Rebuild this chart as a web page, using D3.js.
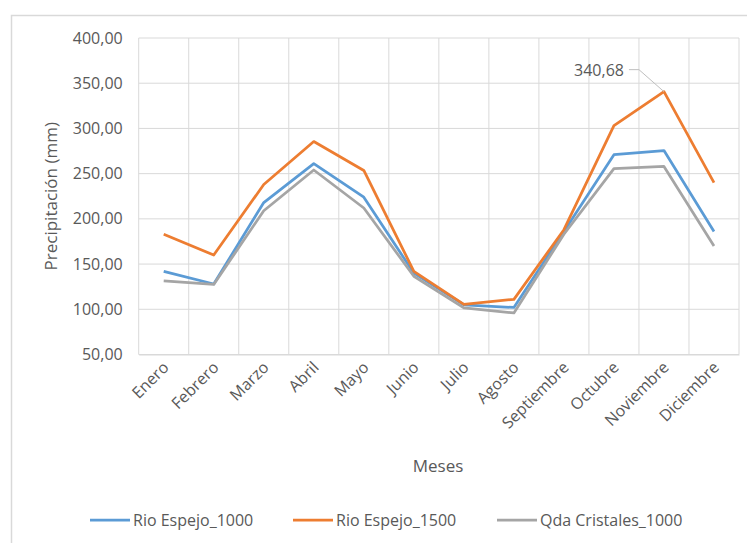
<!DOCTYPE html>
<html>
<head>
<meta charset="utf-8">
<script src="https://cdn.jsdelivr.net/npm/d3@7"></script>
<style>
  body { margin: 0; background: #fff; }
  text { font-family: "Open Sans", sans-serif; fill: #595959; }
</style>
</head>
<body>
<script>

var months = ["Enero", "Febrero", "Marzo", "Abril", "Mayo", "Junio", "Julio",
  "Agosto", "Septiembre", "Octubre", "Noviembre", "Diciembre"]

var rioEspejo1000 = [142, 128, 218, 261, 224, 140, 105, 102, 186, 271, 275.5, 186]
var rioEspejo1500 = [183, 160, 238, 285.5, 253.5, 142, 105.5, 111, 188, 303, 340.68, 240]
var qdaCristales1000 = [131.5, 127.5, 209, 254, 212, 136.5, 101.5, 96, 183, 255.5, 258, 170]

var seriesNames = ["Rio Espejo_1000", "Rio Espejo_1500", "Qda Cristales_1000"]
var seriesColors = ["#5b9bd5", "#ed7d31", "#a5a5a5"]
var yTicks = [50, 100, 150, 200, 250, 300, 350, 400]

var width = 747, height = 543
var pLeft = 138.7, pRight = 739, pTop = 38, pBottom = 354.5

var svg = d3.select("body")
  .append("svg")
    .attr("width", width)
    .attr("height", height)

/******** outer chart border *********/
svg.append("rect")
  .attr("x", 11.5)
  .attr("y", 15.5)
  .attr("width", 800)
  .attr("height", 600)
  .attr("fill", "none")
  .attr("stroke", "#d9d9d9")
  .attr("stroke-width", 1.5)

/******** scales *********/
var x_band = d3.scaleBand()
  .domain(months)
  .range([pLeft, pRight])

var y_scale = d3.scaleLinear()
  .domain([50, 400])
  .range([pBottom, pTop])

var comma = d3.formatLocale({decimal: ",", thousands: ".", grouping: [3], currency: ["", ""]})

/******** gridlines *********/
svg.append("g")
  .selectAll("line.h")
  .data(yTicks)
  .enter()
  .append("line")
    .attr("x1", pLeft)
    .attr("x2", pRight)
    .attr("y1", function(d){ return y_scale(d) })
    .attr("y2", function(d){ return y_scale(d) })
    .attr("stroke", "#d9d9d9")
    .attr("stroke-width", 1)

svg.append("g")
  .selectAll("line.v")
  .data(months.concat(["end"]))
  .enter()
  .append("line")
    .attr("x1", function(d, i){ return pLeft + i * x_band.step() })
    .attr("x2", function(d, i){ return pLeft + i * x_band.step() })
    .attr("y1", pTop)
    .attr("y2", pBottom)
    .attr("stroke", "#d9d9d9")
    .attr("stroke-width", 1)

/******** axes *********/
var y_axis = d3.axisLeft(y_scale)
  .tickValues(yTicks)
  .tickSize(0)
  .tickPadding(16)
  .tickFormat(comma.format(".2f"))

svg.append("g")
  .attr("transform", "translate(" + pLeft + ",0)")
  .call(y_axis)
  .call(function(g){ g.select(".domain").remove() })
  .selectAll("text")
    .attr("font-size", "16px")
    .attr("font-family", "Open Sans")
    .attr("fill", "#595959")

var x_axis = d3.axisBottom(x_band)
  .tickSize(0)
  .tickPadding(0)

svg.append("g")
  .attr("transform", "translate(0," + pBottom + ")")
  .call(x_axis)
  .call(function(g){ g.select(".domain").attr("stroke", "#d9d9d9") })
  .selectAll("text")
    .attr("font-size", "16px")
    .attr("font-family", "Open Sans")
    .attr("fill", "#595959")
    .attr("text-anchor", "end")
    .attr("dy", 0)
    .attr("transform", "translate(6,14) rotate(-45)")

/******** titles *********/
svg.append("text")
  .attr("transform", "translate(57," + ((pTop + pBottom) / 2) + ") rotate(-90)")
  .attr("text-anchor", "middle")
  .attr("font-size", "17px")
  .text("Precipitación (mm)")

svg.append("text")
  .attr("x", 438)
  .attr("y", 472)
  .attr("text-anchor", "middle")
  .attr("font-size", "17px")
  .text("Meses")

/******** lines *********/
var allSeries = [rioEspejo1000, rioEspejo1500, qdaCristales1000]

var line = d3.line()
  .x(function(d, i){ return x_band(months[i]) + x_band.bandwidth() / 2 })
  .y(function(d){ return y_scale(d) })

svg.append("g")
  .selectAll("path")
  .data(allSeries)
  .enter()
  .append("path")
    .attr("d", function(d){ return line(d) })
    .attr("fill", "none")
    .attr("stroke", function(d, i){ return seriesColors[i] })
    .attr("stroke-width", 2.75)
    .attr("stroke-linejoin", "round")

/******** data label on peak *********/
var peakX = x_band("Noviembre") + x_band.bandwidth() / 2
var peakY = y_scale(rioEspejo1500[10])

svg.append("path")
  .attr("d", "M" + (peakX - 35) + "," + (peakY - 22) + "H" + (peakX - 25) + "L" + peakX + "," + peakY)
  .attr("fill", "none")
  .attr("stroke", "#bfbfbf")
  .attr("stroke-width", 1)

svg.append("text")
  .attr("x", peakX - 40)
  .attr("y", peakY - 16)
  .attr("text-anchor", "end")
  .attr("font-size", "16px")
  .text(comma.format(".2f")(rioEspejo1500[10]))

/******** legend *********/
var legendX = [90, 293, 497]

var legend = svg.append("g")
  .selectAll("g")
  .data(seriesNames)
  .enter()
  .append("g")
    .attr("transform", function(d, i){ return "translate(" + legendX[i] + ",520)" })

legend.append("line")
  .attr("x1", 0)
  .attr("x2", 40)
  .attr("y1", 0)
  .attr("y2", 0)
  .attr("stroke", function(d, i){ return seriesColors[i] })
  .attr("stroke-width", 2.75)

legend.append("text")
  .attr("x", 43)
  .attr("y", 6)
  .attr("font-size", "16px")
  .text(function(d){ return d })

</script>
</body>
</html>
